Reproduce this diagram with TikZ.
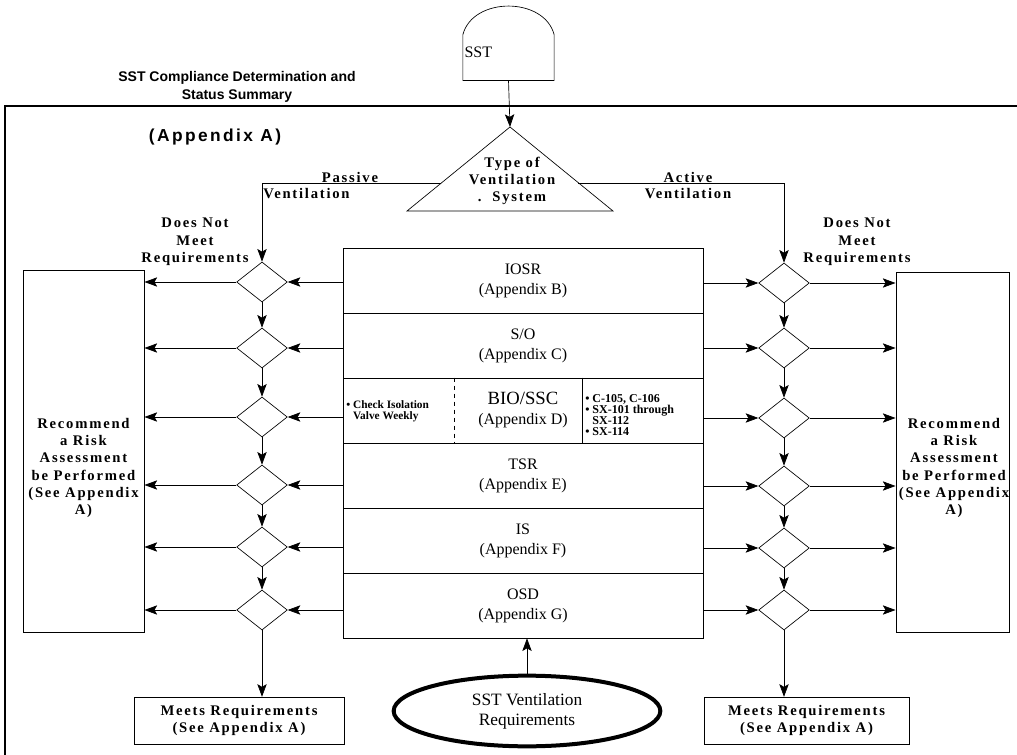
\documentclass[tikz,border=0pt]{standalone}
\usepackage{fontspec}
\setmainfont{Liberation Serif}
\newfontfamily\wideserif[LetterSpace=12]{Liberation Serif}
\newfontfamily\widesans[LetterSpace=14]{Liberation Sans}
\setsansfont{Liberation Sans}
\usetikzlibrary{arrows.meta,shapes.geometric}

\begin{document}
\begin{tikzpicture}[x=0.75pt,y=0.75pt,yscale=-1,
  flow/.style={-{Stealth[length=9.5pt,width=7pt,inset=2pt]},line width=0.5pt},
  box/.style={draw,line width=0.5pt,inner sep=0pt,align=center,font=\fontsize{12}{15}\selectfont},
  dec/.style={draw,diamond,line width=0.5pt,inner sep=0pt,minimum width=38pt,minimum height=30pt},
  tag/.style={align=center,inner sep=0pt,font=\wideserif\bfseries\fontsize{11}{13}\selectfont}]
\useasboundingbox (0,0) rectangle (1017,755);

%Shape: Frame
\draw [line width=1.5pt]  (5,755) -- (5,106) -- (1017,106) ;

% Text Node
\node [align=center,inner sep=0pt,font=\sffamily\bfseries\fontsize{10.5}{14}\selectfont] (title) at (237,87) {SST Compliance Determination and\\Status Summary};
% Text Node
\node [inner sep=0pt,font=\widesans\bfseries\fontsize{13}{15}\selectfont] (appa) at (215,137) {(Appendix A)};

%Shape: Tank
\node [minimum width=68pt,minimum height=34pt,inner sep=0pt] (sst) at (508.5,57.5) {};
\draw [line width=0.5pt]  (sst.south west) -- (sst.north west) .. controls +(10,-38) and +(-10,-38) .. (sst.north east) -- (sst.south east) -- cycle ;
% Text Node
\node [anchor=west,inner sep=1pt,font=\fontsize{12}{14}\selectfont] (ssttxt) at ([yshift=-4pt]sst.west) {SST};

%Shape: Triangle
\coordinate (tritop) at (510,127) ;
\coordinate (trileft) at (407,211) ;
\coordinate (triright) at (613,211) ;
\coordinate (tp) at (441,183) ;
\coordinate (ta) at (578,183) ;
\draw [line width=0.5pt]  (tritop) -- (triright) -- (trileft) -- cycle ;
% Text Node
\node [tag] (vtype) at (512,181) {Type of\\Ventilation\\.\ \ System};

%Straight Lines
\draw [flow]  (sst.south) -- (tritop) ;

%Shape: Center Boxes
\node [box,minimum width=270pt,minimum height=48.75pt] (iosr) at (523,280.5) {IOSR\\(Appendix B)};
\node [box,minimum width=270pt,minimum height=48.75pt] (so) at (523,345.5) {S/O\\(Appendix C)};
\node [box,minimum width=270pt,minimum height=48.75pt] (bio) at (523,410.5) {\fontsize{14}{16}\selectfont BIO/SSC\\(Appendix D)};
\node [box,minimum width=270pt,minimum height=48.75pt] (tsr) at (523,475.5) {TSR\\(Appendix E)};
\node [box,minimum width=270pt,minimum height=48.75pt] (is) at (523,540.5) {IS\\(Appendix F)};
\node [box,minimum width=270pt,minimum height=48.75pt] (osd) at (523,605.5) {OSD\\(Appendix G)};
\draw [dashed,line width=0.5pt]  ([xshift=84pt]bio.north west) -- ([xshift=84pt]bio.south west) ;
\draw [line width=0.5pt]  ([xshift=180pt]bio.north west) -- ([xshift=180pt]bio.south west) ;
% Text Node
\node [anchor=north west,align=left,inner sep=0pt,font=\bfseries\fontsize{8.5}{8.5}\selectfont] (biol) at (346,400) {\textbullet\ Check Isolation\\\phantom{\textbullet\ }Valve Weekly};
% Text Node
\node [anchor=north west,align=left,inner sep=0pt,font=\bfseries\fontsize{9}{8.4}\selectfont] (bior) at (585,394) {\textbullet\ C-105, C-106\\\textbullet\ SX-101 through\\\phantom{\textbullet\ }SX-112\\\textbullet\ SX-114};

%Shape: Diamonds (passive side)
\node [dec] (ld1) at (262,282) {};
\node [dec] (ld2) at (262,348) {};
\node [dec] (ld3) at (262,417) {};
\node [dec] (ld4) at (262,485) {};
\node [dec] (ld5) at (262,547) {};
\node [dec] (ld6) at (262,610) {};
%Shape: Diamonds (active side)
\node [dec] (rd1) at (784,283) {};
\node [dec] (rd2) at (784,348) {};
\node [dec] (rd3) at (784,418) {};
\node [dec] (rd4) at (784,486) {};
\node [dec] (rd5) at (784,548) {};
\node [dec] (rd6) at (784,610) {};

%Shape: Rectangles
\node [draw,line width=0.5pt,minimum width=91pt,minimum height=271pt,inner sep=0pt] (riskl) at (83.5,451.5) {};
\node [draw,line width=0.5pt,minimum width=85pt,minimum height=270pt,inner sep=0pt] (riskr) at (952.5,452) {};
% Text Node
\node [tag] (riskltxt) at (83.5,468) {Recommend\\a Risk\\Assessment\\be Performed\\(See Appendix\\A)};
% Text Node
\node [tag] (riskrtxt) at (954,468) {Recommend\\a Risk\\Assessment\\be Performed\\(See Appendix\\A)};
\node [draw,line width=0.5pt,minimum width=157.5pt,minimum height=35pt,tag] (meetl) at (239,720.5) {Meets Requirements\\(See Appendix A)};
\node [draw,line width=0.5pt,minimum width=154pt,minimum height=35pt,tag] (meetr) at (806.5,720.5) {Meets Requirements\\(See Appendix A)};
%Shape: Ellipse
\node [draw,ellipse,line width=3pt,minimum width=200pt,minimum height=53pt,inner sep=0pt,align=center,font=\fontsize{13}{15}\selectfont] (reqs) at (527,711) {SST Ventilation\\Requirements};

% Text Node
\node [tag] (passive) at (350,177) {Passive};
\node [tag,anchor=west] (pvent) at (263,194) {Ventilation};
\node [tag] (active) at (688,177) {Active};
\node [tag] (avent) at (688,194) {Ventilation};
\node [tag] (dnml) at (195,242) {Does Not\\Meet\\Requirements};
\node [tag] (dnmr) at (857,242) {Does Not\\Meet\\Requirements};

%Straight Lines
\draw [flow]  (tp) -| (ld1.north) ;
\draw [flow]  (ta) -| (rd1.north) ;

\draw [flow]  (iosr.west |- ld1) -- (ld1.east) ;
\draw [flow]  (so.west |- ld2) -- (ld2.east) ;
\draw [flow]  (bio.west |- ld3) -- (ld3.east) ;
\draw [flow]  (tsr.west |- ld4) -- (ld4.east) ;
\draw [flow]  (is.west |- ld5) -- (ld5.east) ;
\draw [flow]  (osd.west |- ld6) -- (ld6.east) ;

\draw [flow]  (ld1.west) -- (ld1.west -| riskl.east) ;
\draw [flow]  (ld2.west) -- (ld2.west -| riskl.east) ;
\draw [flow]  (ld3.west) -- (ld3.west -| riskl.east) ;
\draw [flow]  (ld4.west) -- (ld4.west -| riskl.east) ;
\draw [flow]  (ld5.west) -- (ld5.west -| riskl.east) ;
\draw [flow]  (ld6.west) -- (ld6.west -| riskl.east) ;

\draw [flow]  (ld1.south) -- (ld2.north) ;
\draw [flow]  (ld2.south) -- (ld3.north) ;
\draw [flow]  (ld3.south) -- (ld4.north) ;
\draw [flow]  (ld4.south) -- (ld5.north) ;
\draw [flow]  (ld5.south) -- (ld6.north) ;
\draw [flow]  (ld6.south) -- (ld6.south |- meetl.north) ;

\draw [flow]  (iosr.east |- rd1) -- (rd1.west) ;
\draw [flow]  (so.east |- rd2) -- (rd2.west) ;
\draw [flow]  (bio.east |- rd3) -- (rd3.west) ;
\draw [flow]  (tsr.east |- rd4) -- (rd4.west) ;
\draw [flow]  (is.east |- rd5) -- (rd5.west) ;
\draw [flow]  (osd.east |- rd6) -- (rd6.west) ;

\draw [flow]  (rd1.east) -- (rd1.east -| riskr.west) ;
\draw [flow]  (rd2.east) -- (rd2.east -| riskr.west) ;
\draw [flow]  (rd3.east) -- (rd3.east -| riskr.west) ;
\draw [flow]  (rd4.east) -- (rd4.east -| riskr.west) ;
\draw [flow]  (rd5.east) -- (rd5.east -| riskr.west) ;
\draw [flow]  (rd6.east) -- (rd6.east -| riskr.west) ;

\draw [flow]  (rd1.south) -- (rd2.north) ;
\draw [flow]  (rd2.south) -- (rd3.north) ;
\draw [flow]  (rd3.south) -- (rd4.north) ;
\draw [flow]  (rd4.south) -- (rd5.north) ;
\draw [flow]  (rd5.south) -- (rd6.north) ;
\draw [flow]  (rd6.south) -- (rd6.south |- meetr.north) ;

\draw [flow]  (reqs.north) -- (reqs.north |- osd.south) ;

\end{tikzpicture}
\end{document}
